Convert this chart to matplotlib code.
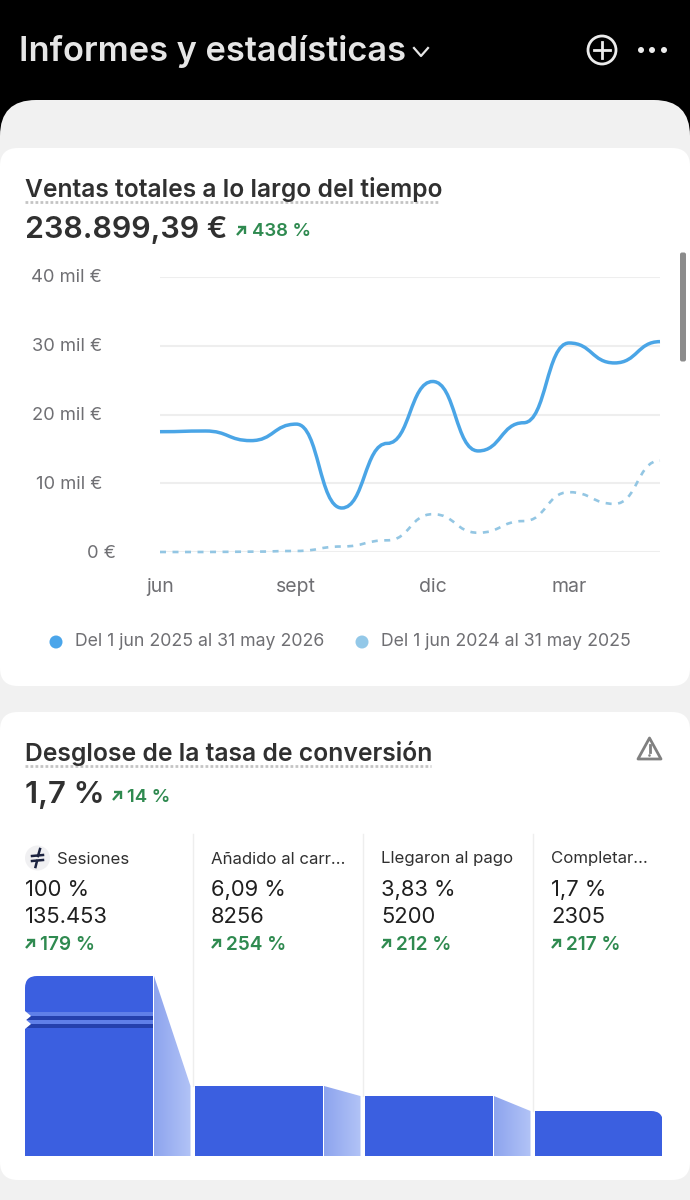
import matplotlib
matplotlib.use("Agg")
import matplotlib.pyplot as plt
from matplotlib.patches import Circle, FancyBboxPatch, PathPatch, Polygon, Rectangle
from matplotlib.path import Path
import numpy as np

plt.rcParams['font.family'] = ['Inter', 'DejaVu Sans']

# data
months = ['jun', 'jul', 'ago', 'sept', 'oct', 'nov', 'dic', 'ene', 'feb', 'mar', 'abr', 'may']
sales_now = [17500, 17600, 16200, 18600, 6400, 15800, 24800, 14700, 18800, 30400, 27500, 30600]
sales_prev = [0, 0, 50, 150, 800, 1700, 5500, 2800, 4500, 8700, 7000, 13300]
y_ticks = [0, 10000, 20000, 30000, 40000]
y_labels = ['0 €', '10 mil €', '20 mil €', '30 mil €', '40 mil €']
x_tick_months = ['jun', 'sept', 'dic', 'mar']
legend_labels = ['Del 1 jun 2025 al 31 may 2026', 'Del 1 jun 2024 al 31 may 2025']

steps = ['Sesiones', 'Añadido al carr...', 'Llegaron al pago', 'Completar...']
step_pct = ['100 %', '6,09 %', '3,83 %', '1,7 %']
step_count = ['135.453', '8256', '5200', '2305']
step_change = ['179 %', '254 %', '212 %', '217 %']
bar_levels = [100, 38.9, 33.3, 25]  # drawn height on the funnel's own scale

DARK = '#303030'
GREY = '#6f6f73'
GREEN = '#2f8a50'
BLUE = '#3b5fe0'
LINE_NOW = '#4aa5e6'
LINE_PREV = '#93c6e3'

W, H = 690, 1200
fig = plt.figure(figsize=(W / 100, H / 100), dpi=100, facecolor='black')

# whole picture in pixel coordinates, for the app chrome
ui = fig.add_axes([0, 0, 1, 1])
ui.set_xlim(0, W)
ui.set_ylim(H, 0)
ui.axis('off')


def px_axes(x0, y0, x1, y1):
    ax = fig.add_axes([x0 / W, 1 - y1 / H, (x1 - x0) / W, (y1 - y0) / H])
    ax.patch.set_alpha(0)
    for s in ax.spines.values():
        s.set_visible(False)
    return ax


def text(x, y, s, px, color=DARK, weight='normal', ha='left'):
    ui.text(x, y, s, fontsize=px * 0.72, color=color, weight=weight, ha=ha, va='center')


def card(y0, y1, color='white', r=18):
    ui.add_patch(FancyBboxPatch((0 + r, y0 + r), W - 2 * r, y1 - y0 - 2 * r,
                                boxstyle='round,pad=%d,rounding_size=%d' % (r, r), fc=color, ec='none'))


def arrow(x, y, color=GREEN):
    # small up-right trend arrow
    ui.plot([x, x + 7], [y + 4, y - 4], color=color, lw=1.7, solid_capstyle='butt')
    ui.plot([x + 1, x + 8, x + 8], [y - 4, y - 4, y + 3], color=color, lw=1.7,
            solid_joinstyle='miter', solid_capstyle='butt')


def smooth_path(xs, ys):
    # flat tangent at every value, the curve shape the chart uses
    verts = [(xs[0], ys[0])]
    codes = [Path.MOVETO]
    for i in range(len(xs) - 1):
        mid = (xs[i] + xs[i + 1]) / 2
        verts += [(mid, ys[i]), (mid, ys[i + 1]), (xs[i + 1], ys[i + 1])]
        codes += [Path.CURVE4] * 3
    return Path(verts, codes)


# header
text(19, 52, 'Informes y estadísticas', 34.4, '#e6e6e6', 'semibold')
ui.plot([414, 421, 428], [48, 56, 48], color='#e6e6e6', lw=1.6)
ui.add_patch(Circle((602, 50), 14, fc='none', ec='#ececec', lw=2))
ui.plot([594, 610], [50, 50], color='#ececec', lw=2)
ui.plot([602, 602], [42, 58], color='#ececec', lw=2)
for dot_x in [641, 652, 664]:
    ui.add_patch(Circle((dot_x, 50), 3, fc='#ececec', ec='none'))

# grey sheet and cards
ui.add_patch(FancyBboxPatch((36, 136), W - 72, H, boxstyle='round,pad=36,rounding_size=36', fc='#f1f1f1', ec='none'))
card(148, 686)
card(712, 1180)
ui.add_patch(FancyBboxPatch((681.5, 254), 3, 106, boxstyle='round,pad=1.5,rounding_size=2', fc='#8c8c8c', ec='none'))

# first card
text(25, 189, 'Ventas totales a lo largo del tiempo', 24.6, DARK, 'semibold')
ui.plot([25, 440], [202, 202], color='#c4c4c4', lw=2, ls=(0, (1, 0.8)))
text(25, 230, '238.899,39 €', 30.4, DARK, 'semibold')
arrow(237, 231)
text(252, 232, '438 %', 18.5, GREEN, 'semibold')

chart = px_axes(160, 277, 660, 552)
chart.set_xlim(0, len(months) - 1)
chart.set_ylim(y_ticks[0], y_ticks[-1])
chart.set_yticks(y_ticks)
chart.set_yticklabels([])
chart.tick_params(left=False, bottom=False, pad=15.5, labelsize=14, labelcolor=GREY)
chart.set_xticks([months.index(m) for m in x_tick_months])
chart.set_xticklabels(x_tick_months)
chart.grid(axis='y', color='#eeeeee', lw=1.5)
chart.set_axisbelow(True)
for v, lab in zip(y_ticks, y_labels):
    chart.annotate(lab, xy=(0, v), xycoords=('axes fraction', 'data'), xytext=(-44 if v == 0 else -58, -1),
                   textcoords='offset pixels', ha='right', va='center', fontsize=13.2, color=GREY)
x_idx = np.arange(len(months))
chart.add_patch(PathPatch(smooth_path(x_idx, sales_prev), fc='none', ec=LINE_PREV, lw=1.9,
                          ls=(0, (2.27, 2.47)), clip_on=False, capstyle='butt'))
chart.add_patch(PathPatch(smooth_path(x_idx, sales_now), fc='none', ec=LINE_NOW, lw=2.5, clip_on=False))

ui.add_patch(Circle((56, 642), 6.5, fc='#4aa5ea', ec='none'))
text(75, 641, legend_labels[0], 17.7, GREY)
ui.add_patch(Circle((362, 642), 6.5, fc='#93c8e8', ec='none'))
text(381, 641, legend_labels[1], 17.7, GREY)

# second card
text(25, 754, 'Desglose de la tasa de conversión', 24.7, DARK, 'semibold')
ui.plot([25, 431], [766, 766], color='#c4c4c4', lw=2, ls=(0, (1, 0.8)))
text(25, 795, '1,7 %', 31, DARK, 'semibold')
arrow(113, 796)
text(127, 797, '14 %', 18.5, GREEN, 'semibold')
ui.add_patch(Polygon([(649.5, 738), (661, 759), (638, 759)], closed=True, fc='none', ec='#808080', lw=2, joinstyle='round'))
ui.plot([649.5, 649.5], [745, 752], color='#808080', lw=2)
ui.add_patch(Circle((649.5, 755.5), 1.3, fc='#808080', ec='none'))

sep_bottoms = [1086, 1096, 1111]
for sep_x, sep_b in zip([192.5, 362.5, 532.5], sep_bottoms):
    ui.plot([sep_x, sep_x], [834, sep_b], color='#eeeeee', lw=1)

col_x = [25, 211, 381, 551]
label_x = [57, 211, 381, 551]
for i in range(4):
    text(label_x[i], 859, steps[i], 16.8, '#303030')
    text(col_x[i], 890, step_pct[i], 22, '#1f1f1f')
    text(col_x[i], 917, step_count[i], 22, '#1f1f1f')
    arrow(col_x[i] + 1, 944)
    text(col_x[i] + 15, 945, step_change[i], 19, GREEN, 'semibold')

# session icon
ui.add_patch(Circle((37.5, 858), 12.5, fc='#f0f0f2', ec='none'))
ui.plot([32, 43], [856, 855], color='#1c2340', lw=1.8)
ui.plot([32, 43], [861, 860], color='#1c2340', lw=1.8)
ui.plot([40, 38], [849, 856], color='#1c2340', lw=1.8)
ui.plot([37, 35.5], [861, 867], color='#1c2340', lw=1.8)

# funnel
STEP_PX = 170.0
BAR_W = 128 / STEP_PX
LINK_X0 = 129 / STEP_PX
LINK_X1 = 165.5 / STEP_PX
funnel = px_axes(25, 976, 662, 1156)
funnel.set_xlim(0, 637 / STEP_PX)
funnel.set_ylim(0, 100)
funnel.set_xticks([])
funnel.set_yticks([])
DY = 100 / 180.0
DX = 1 / STEP_PX
bars = funnel.bar(range(len(bar_levels)), bar_levels, width=BAR_W, align='edge', color=BLUE, clip_on=True)

# rounded outer corners of first and last bars
r_x, r_y = 12 * DX, 12 * DY
top = bar_levels[0]
first_clip = Path([(0, 0), (0, top - r_y), (0, top), (r_x, top), (BAR_W, top), (BAR_W, 0), (0, 0)],
                  [Path.MOVETO, Path.LINETO, Path.CURVE3, Path.CURVE3, Path.LINETO, Path.LINETO, Path.CLOSEPOLY])
bars[0].set_clip_path(first_clip, funnel.transData)
top = bar_levels[3]
last_clip = Path([(3, 0), (3, top), (3 + BAR_W - r_x, top), (3 + BAR_W, top), (3 + BAR_W, top - r_y), (3 + BAR_W, 0), (3, 0)],
                 [Path.MOVETO, Path.LINETO, Path.LINETO, Path.CURVE3, Path.CURVE3, Path.LINETO, Path.CLOSEPOLY])
bars[3].set_clip_path(last_clip, funnel.transData)

# axis-break stripes on the first bar
for px_top, px_bot, col in [(1012, 1016, '#5f7fe8'), (1016, 1020, '#2440ad'), (1020, 1024, '#5f7fe8'), (1024, 1028, '#2440ad')]:
    funnel.add_patch(Rectangle((0, (1156 - px_bot) * DY), BAR_W, (px_bot - px_top) * DY, fc=col, ec='none'))
for tip in [1016, 1024]:
    funnel.add_patch(Polygon([(0, (1156 - tip + 5) * DY), (6 * DX, (1156 - tip) * DY), (0, (1156 - tip - 5) * DY)],
                             closed=True, fc='white', ec='none', clip_on=False))

# gradient links between the bars
grad = np.linspace(0, 1, 64).reshape(1, -1)
cmap = matplotlib.colors.LinearSegmentedColormap.from_list('link', ['#8da4ee', '#b2c3f6'])
for i in range(len(bar_levels) - 1):
    im = funnel.imshow(grad, extent=(i + LINK_X0, i + LINK_X1, 0, bar_levels[i]), aspect='auto', cmap=cmap, zorder=1)
    im.set_clip_path(Polygon([(i + LINK_X0, 0), (i + LINK_X0, bar_levels[i]), (i + LINK_X1, bar_levels[i + 1]), (i + LINK_X1, 0)],
                             closed=True, transform=funnel.transData))
funnel.set_xlim(0, 637 / STEP_PX)
funnel.set_ylim(0, 100)

fig.savefig('out.png', dpi=100, facecolor='black')
